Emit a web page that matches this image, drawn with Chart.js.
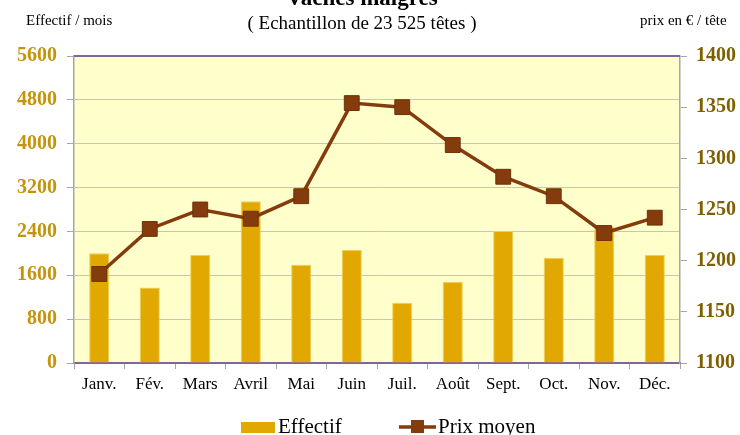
<!DOCTYPE html>
<html lang="fr">
<head>
<meta charset="utf-8">
<script src="https://cdn.jsdelivr.net/npm/chart.js@4.4.1/dist/chart.umd.min.js"></script>
<style>
  html, body { margin: 0; padding: 0; background: #fff; }
  #wrap { position: relative; width: 740px; height: 435px; }
</style>
</head>
<body>
<div id="wrap"><canvas id="chart"></canvas></div>
<script>
/* ---- data ---- */
const MONTHS   = ['Janv.', 'Fév.', 'Mars', 'Avril', 'Mai', 'Juin', 'Juil.', 'Août', 'Sept.', 'Oct.', 'Nov.', 'Déc.'];
const EFFECTIF = [2000, 1375, 1970, 2950, 1790, 2060, 1100, 1480, 2410, 1920, 2480, 1970];
const PRIX     = [1187, 1231, 1250, 1241, 1263, 1354, 1350, 1313, 1282, 1263, 1227, 1242];
const LEFT_TICKS  = [0, 800, 1600, 2400, 3200, 4000, 4800, 5600];
const RIGHT_TICKS = [1100, 1150, 1200, 1250, 1300, 1350, 1400];

const FONT      = "'Liberation Serif', 'Times New Roman', serif";
const BAR_COLOR = '#E0A800';
const LINE_COLOR = '#843C0C';
const PURPLE    = '#8064A2';
const AXIS_GREY = '#A6A6A6';

/* plot background + top border + header/legend texts */
const decorPlugin = {
    id: 'decor',
    beforeDraw(chart) {
        const { ctx, chartArea: a } = chart;
        ctx.save();
        ctx.fillStyle = '#FFFFCC';
        ctx.fillRect(a.left, a.top, a.right - a.left, a.bottom - a.top);
        ctx.restore();
    },
    afterDraw(chart) {
        const { ctx, chartArea: a } = chart;
        ctx.save();
        // top border
        ctx.strokeStyle = PURPLE;
        ctx.lineWidth = 2;
        ctx.beginPath();
        ctx.moveTo(a.left, a.top);
        ctx.lineTo(a.right, a.top);
        ctx.stroke();

        // titles
        ctx.fillStyle = '#000';
        ctx.textBaseline = 'alphabetic';
        ctx.textAlign = 'center';
        ctx.font = `bold 23px ${FONT}`;
        ctx.fillText('Vaches maigres', 362, 5);
        ctx.font = `19px ${FONT}`;
        ctx.fillText('( Echantillon de 23 525 têtes )', 362, 29);
        ctx.font = `15px ${FONT}`;
        ctx.textAlign = 'left';
        ctx.fillText('Effectif / mois', 26, 25);
        ctx.fillText('prix en € / tête', 640, 25);

        // legend
        ctx.fillStyle = BAR_COLOR;
        ctx.fillRect(241, 422, 34, 11);
        ctx.strokeStyle = LINE_COLOR;
        ctx.lineWidth = 3.5;
        ctx.beginPath();
        ctx.moveTo(399, 427);
        ctx.lineTo(436, 427);
        ctx.stroke();
        ctx.fillStyle = LINE_COLOR;
        ctx.fillRect(411, 420, 13, 13);
        ctx.fillStyle = '#000';
        ctx.font = `21px ${FONT}`;
        ctx.fillText('Effectif', 278, 433);
        ctx.fillText('Prix moyen', 438, 433);
        ctx.restore();
    },
};

new Chart(document.getElementById('chart').getContext('2d'), {
    type: 'bar',
    plugins: [decorPlugin],
    data: {
        labels: MONTHS,
        datasets: [
            {
                type: 'line',
                label: 'Prix moyen',
                data: PRIX,
                yAxisID: 'yPrix',
                borderColor: LINE_COLOR,
                borderWidth: 3.5,
                tension: 0,
                pointStyle: 'rect',
                pointRadius: 10.5,
                pointBackgroundColor: LINE_COLOR,
                pointBorderColor: '#6E300A',
                pointBorderWidth: 1,
                order: 0,
            },
            {
                label: 'Effectif',
                data: EFFECTIF,
                yAxisID: 'yEff',
                backgroundColor: BAR_COLOR,
                borderColor: '#EFCF5A',
                borderWidth: 1,
                barPercentage: 0.4,
                categoryPercentage: 1,
                order: 1,
            },
        ],
    },
    options: {
        responsive: true,
        maintainAspectRatio: false,
        animation: false,
        layout: { padding: { top: 56, bottom: 42, left: 0, right: 0 } },
        plugins: { legend: { display: false }, tooltip: { enabled: false }, title: { display: false } },
        scales: {
            x: {
                offset: true,
                grid: { offset: true, drawOnChartArea: false, tickLength: 6, color: AXIS_GREY },
                border: { color: PURPLE, width: 2 },
                ticks: { color: '#000', font: { family: FONT, size: 17 }, padding: 5, maxRotation: 0 },
                afterFit(s) { s.height = 30; },
            },
            yEff: {
                position: 'left',
                min: 0, max: 5600,
                afterBuildTicks(s) { s.ticks = LEFT_TICKS.map(v => ({ value: v })); },
                grid: { color: '#C4C4C4', tickColor: AXIS_GREY, tickLength: 7 },
                border: { color: AXIS_GREY, width: 1.5 },
                ticks: { color: '#C4940A', font: { family: FONT, size: 20, weight: 'bold' }, padding: 10, callback: v => String(v) },
                afterFit(s) { s.width = 74; },
            },
            yPrix: {
                position: 'right',
                min: 1100, max: 1400,
                afterBuildTicks(s) { s.ticks = RIGHT_TICKS.map(v => ({ value: v })); },
                grid: { drawOnChartArea: false, tickColor: AXIS_GREY, tickLength: 7 },
                border: { color: AXIS_GREY, width: 1.5 },
                ticks: { color: '#7F6000', font: { family: FONT, size: 20, weight: 'bold' }, padding: 9, callback: v => String(v) },
                afterFit(s) { s.width = 60; },
            },
        },
    },
});
</script>
</body>
</html>
